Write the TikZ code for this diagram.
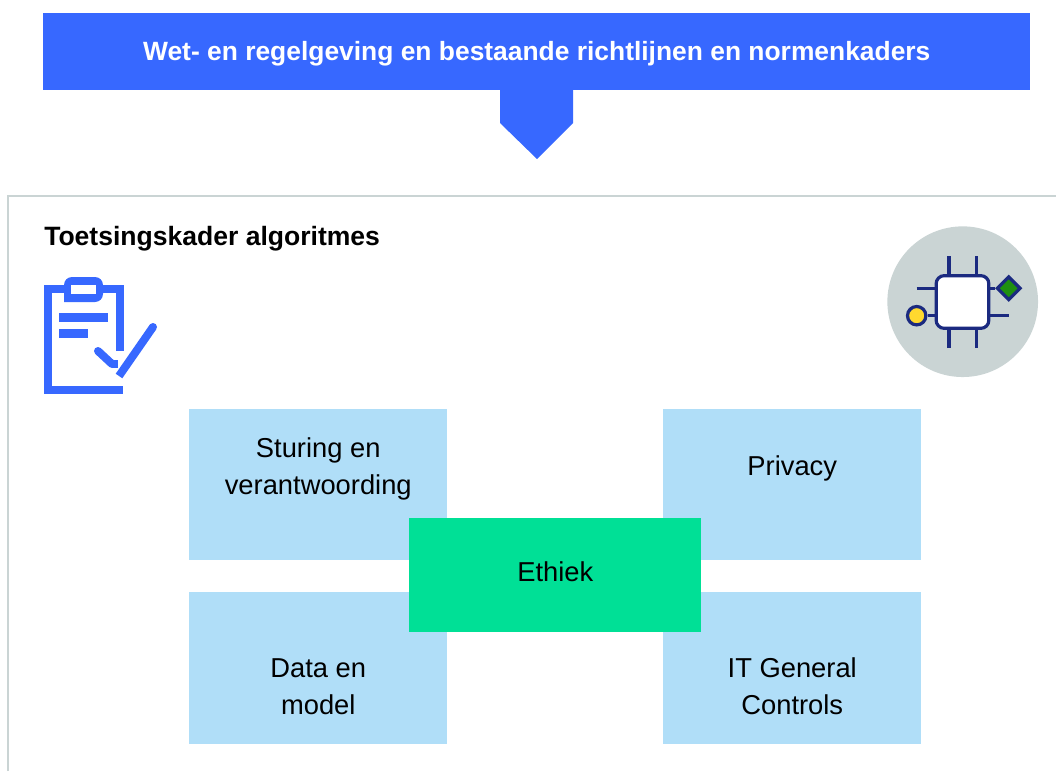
\documentclass[tikz,border=0pt]{standalone}
\usepackage{fontspec}
\setmainfont{Liberation Sans}
\usetikzlibrary{shapes.geometric}
\definecolor{kaderblue}{HTML}{3768FF}
\definecolor{kadergrey}{HTML}{CAD4D4}
\definecolor{kaderlight}{HTML}{B0DEF8}
\definecolor{kadergreen}{HTML}{00E096}
\definecolor{chipnavy}{HTML}{1B2A80}
\definecolor{chipgreen}{HTML}{1F9010}
\definecolor{chipyellow}{HTML}{FFD92F}
\tikzset{
	area/.style = {fill = kaderlight, anchor = north west, inner sep = 0pt, minimum width = 193.5pt, minimum height = 113.25pt},
	areatext/.style = {align = center, font = \fontsize{20.5}{27.8}\selectfont, inner sep = 0pt},
	lead/.style = {draw = chipnavy, line width = 2.4pt},
	iconline/.style = {draw = kaderblue, line width = 6pt}
}

\begin{document}
\begin{tikzpicture}[x = 0.75pt, y = -0.75pt]
	\useasboundingbox (0,0) rectangle (1056,771);

	% banner with its pointer
	\node (banner)[fill = kaderblue, anchor = north west, minimum width = 740.25pt, minimum height = 57.75pt, inner sep = 0pt, text = white, text height = 15pt, text depth = 1.8pt, font = \fontsize{19.8}{24}\selectfont\bfseries] at (43,13) {Wet- en regelgeving en bestaande richtlijnen en normenkaders};
	\fill [kaderblue](500,90) -- (500,123) -- (537,159) -- (573,123) -- (573,90) -- cycle;

	% frame, open at the right and the bottom
	\draw [kadergrey, line width = 2.1pt](8,771) -- (8,196) -- (1056,196);
	\node (title)[anchor = west, inner sep = 0pt, font = \fontsize{19.9}{24}\selectfont\bfseries] at (44,239) {Toetsingskader algoritmes};

	% clipboard
	\draw [iconline](119.5,351) -- (119.5,289) -- (47.5,289) -- (47.5,390) -- (123,390);
	\fill [kaderblue, rounded corners = 6pt](64,302) -- (64,277) -- (103,277) -- (103,302) [sharp corners] -- cycle;
	\fill [white](71,285) rectangle (96,294);
	\fill [kaderblue](59,313) rectangle (108,322);
	\fill [kaderblue](59,329) rectangle (88,338);
	\draw [iconline, line cap = round](98,351) -- (112,364);
	\draw [iconline](112,364) -- (118,364);
	\draw [iconline](153,327) -- (119,376);
	\fill [kaderblue](153,327) circle (4);

	% chip
	\node (disc)[circle, fill = kadergrey, minimum size = 113pt, inner sep = 0pt] at (962.7,301.7) {};
	\node (chip)[draw = chipnavy, line width = 2.4pt, fill = white, rounded corners = 6pt, minimum size = 39.5pt, inner sep = 0pt] at (962.5,302) {};
	\node (dot)[circle, draw = chipnavy, line width = 2.4pt, fill = chipyellow, minimum size = 13.8pt, inner sep = 0pt] at (916.7,315.7) {};
	\node (ruit)[diamond, draw = chipnavy, line width = 2.4pt, fill = chipgreen, minimum size = 18pt, inner sep = 0pt] at (1008.7,288.3) {};
	\coordinate (topa) at (949,256);
	\coordinate (topb) at (976.3,256);
	\coordinate (bota) at (949,348);
	\coordinate (botb) at (976.3,348);
	\coordinate (lefta) at (916.7,288.3);
	\coordinate (righta) at (1008.7,315.7);
	\draw [lead](topa) -- (topa |- chip.north);
	\draw [lead](topb) -- (topb |- chip.north);
	\draw [lead](bota) -- (bota |- chip.south);
	\draw [lead](botb) -- (botb |- chip.south);
	\draw [lead](lefta) -- (lefta -| chip.west);
	\draw [lead](righta) -- (righta -| chip.east);
	\draw [lead](dot) -- (dot -| chip.west);
	\draw [lead](ruit) -- (ruit -| chip.east);

	% areas
	\node (sturing)[area] at (189,409) {};
	\node (privacy)[area] at (663,409) {};
	\node (data)[area, minimum height = 114pt] at (189,592) {};
	\node (itgc)[area, minimum height = 114pt] at (663,592) {};
	\node (ethiek)[fill = kadergreen, anchor = north west, inner sep = 0pt, minimum width = 219pt, minimum height = 85.5pt, text height = 12pt, text depth = 2pt, font = \fontsize{20.5}{24}\selectfont] at (409,518) {Ethiek};

	\node (sturingtext)[areatext, yshift = 12pt] at (sturing) {Sturing en\\verantwoording};
	\node (privacytext)[areatext, yshift = 12pt] at (privacy) {Privacy};
	\node (datatext)[areatext, yshift = -13.6pt] at (data) {Data en\\model};
	\node (itgctext)[areatext, yshift = -13.6pt] at (itgc) {IT General\\Controls};
\end{tikzpicture}
\end{document}
